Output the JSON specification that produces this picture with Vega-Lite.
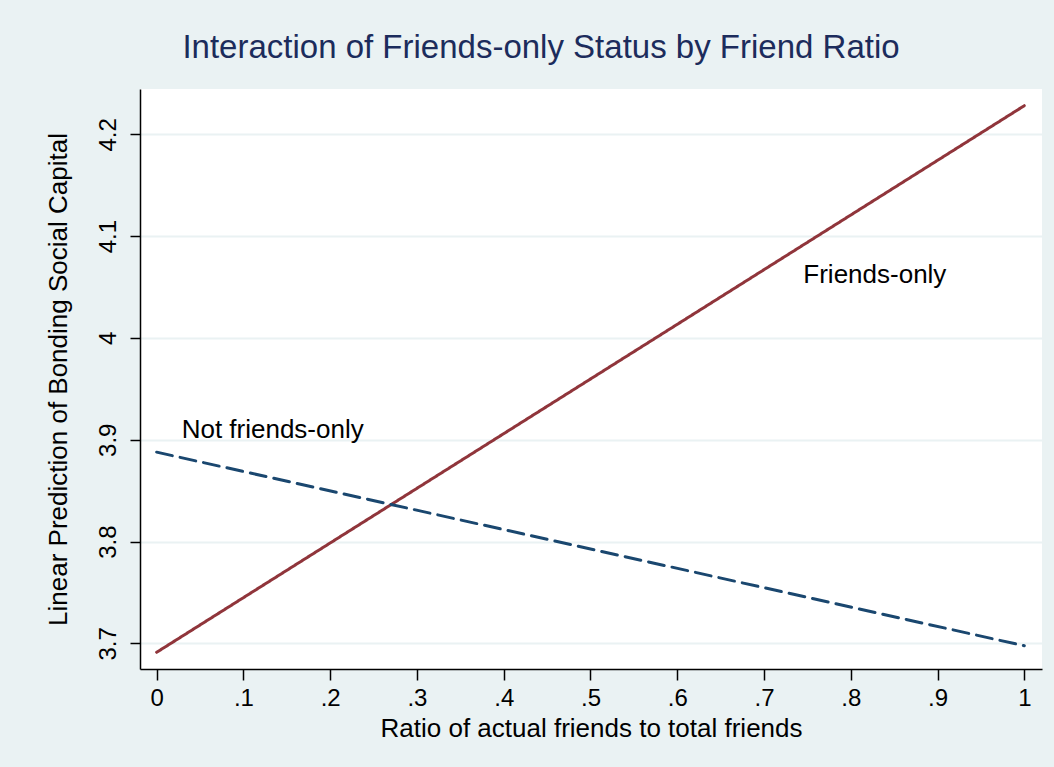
{
  "$schema": "https://vega.github.io/schema/vega-lite/v6.json",
  "width": 902,
  "height": 580,
  "autosize": {"type": "none"},
  "padding": {"left": 140, "top": 89, "right": 12, "bottom": 98},
  "background": "#eaf2f3",
  "title": {
    "text": "Interaction of Friends-only Status by Friend Ratio",
    "font": "Liberation Sans",
    "fontSize": 33,
    "fontWeight": "normal",
    "color": "#1c2c5c",
    "anchor": "middle",
    "frame": "group",
    "baseline": "alphabetic",
    "offset": 30,
    "dx": -50,
    "dy": 32
  },
  "config": {
    "view": {"fill": "white", "stroke": null},
    "font": "Liberation Sans"
  },
  "datasets": {
    "lines": [
      {"series": "Friends-only", "ratio": 0, "pred": 3.6912},
      {"series": "Friends-only", "ratio": 1, "pred": 4.2281},
      {"series": "Not friends-only", "ratio": 0, "pred": 3.8878},
      {"series": "Not friends-only", "ratio": 1, "pred": 3.6976}
    ],
    "labels": [
      {"label": "Not friends-only", "ratio": 0.0288, "pred": 3.9017},
      {"label": "Friends-only", "ratio": 0.7453, "pred": 4.0536}
    ]
  },
  "layer": [
    {
      "data": {"name": "lines"},
      "mark": {"type": "line", "strokeWidth": 3, "strokeCap": "round"},
      "encoding": {
        "x": {
          "field": "ratio",
          "type": "quantitative",
          "scale": {"domain": [-0.0192, 1.0204], "nice": false, "zero": false},
          "axis": {
            "values": [0, 0.1, 0.2, 0.3, 0.4, 0.5, 0.6, 0.7, 0.8, 0.9, 1],
            "labelExpr": "datum.value == 0 ? '0' : datum.value == 1 ? '1' : replace(format(datum.value, '.1f'), '0.', '.')",
            "title": "Ratio of actual friends to total friends",
            "grid": false,
            "domainColor": "#000000",
            "domainWidth": 1.5,
            "tickColor": "#000000",
            "tickWidth": 1.5,
            "tickSize": 11,
            "labelFont": "Liberation Sans",
            "labelFontSize": 24,
            "labelColor": "#000000",
            "labelPadding": 6,
            "labelFlush": false,
            "titleFont": "Liberation Sans",
            "titleFontSize": 26,
            "titleFontWeight": "normal",
            "titleColor": "#000000",
            "titleBaseline": "alphabetic",
            "titleY": 67
          }
        },
        "y": {
          "field": "pred",
          "type": "quantitative",
          "scale": {"domain": [3.6748, 4.2445], "nice": false, "zero": false},
          "axis": {
            "values": [3.7, 3.8, 3.9, 4.0, 4.1, 4.2],
            "labelExpr": "datum.value == 4 ? '4' : format(datum.value, '.1f')",
            "title": "Linear Prediction of Bonding Social Capital",
            "grid": true,
            "gridColor": "#eaf2f3",
            "gridWidth": 2,
            "domainColor": "#000000",
            "domainWidth": 1.5,
            "tickColor": "#000000",
            "tickWidth": 1.5,
            "tickSize": 10,
            "labelAngle": -90,
            "labelAlign": "center",
            "labelBaseline": "alphabetic",
            "labelPadding": 15,
            "labelFont": "Liberation Sans",
            "labelFontSize": 24,
            "labelColor": "#000000",
            "labelFlush": false,
            "titleFont": "Liberation Sans",
            "titleFontSize": 26,
            "titleFontWeight": "normal",
            "titleColor": "#000000",
            "titleBaseline": "alphabetic",
            "titleX": -74
          }
        },
        "color": {
          "field": "series",
          "type": "nominal",
          "scale": {"domain": ["Friends-only", "Not friends-only"], "range": ["#90353b", "#1a476f"]},
          "legend": null
        },
        "strokeDash": {
          "field": "series",
          "type": "nominal",
          "scale": {"domain": ["Friends-only", "Not friends-only"], "range": [[1, 0], [16, 8]]},
          "legend": null
        }
      }
    },
    {
      "data": {"name": "labels"},
      "mark": {"type": "text", "align": "left", "baseline": "alphabetic", "font": "Liberation Sans", "fontSize": 26, "color": "#000000"},
      "encoding": {
        "x": {"field": "ratio", "type": "quantitative"},
        "y": {"field": "pred", "type": "quantitative"},
        "text": {"field": "label"}
      }
    }
  ]
}
